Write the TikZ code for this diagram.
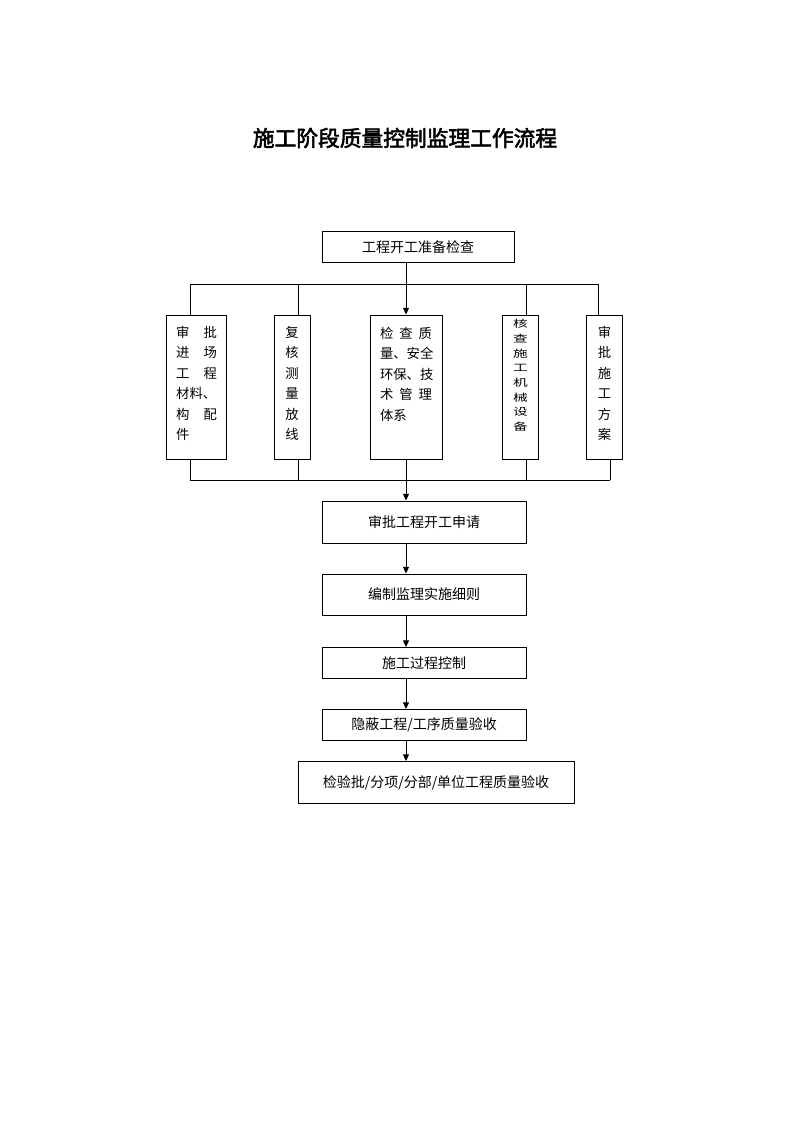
\documentclass[tikz,border=0pt]{standalone}
\usepackage{fontspec}
\setmainfont{Noto Sans CJK SC}
\newfontfamily\titlefont{Noto Sans CJK SC}[FakeBold=2.5]
\usetikzlibrary{arrows.meta}
\newcommand{\sq}[1]{\scalebox{1.1}[0.75]{#1}}
\begin{document}
\begin{tikzpicture}[x=0.75pt,y=-0.75pt,
  box/.style={draw,line width=0.75pt,inner sep=0pt},
  ln/.style={line width=0.75pt},
  arr/.style={line width=0.75pt,-{Triangle[length=5pt,width=4.5pt]}},
  txt/.style={inner sep=0pt,font=\fontsize{10}{15.3}\selectfont},
]
\useasboundingbox (0,0) rectangle (794,1123);
% title
\node[inner sep=0pt,font=\titlefont\fontsize{16.3}{18}\selectfont] (title) at (405,138) {施工阶段质量控制监理工作流程};
% top box
\node[box,minimum width=192*0.75pt,minimum height=30*0.75pt,font=\fontsize{10.5}{12}\selectfont] (top) at (418,247) {工程开工准备检查};
% five boxes
\node[box,minimum width=60*0.75pt,minimum height=144*0.75pt] (b1) at (196.5,387) {};
\node[box,minimum width=36*0.75pt,minimum height=144*0.75pt] (b2) at (292,387) {};
\node[box,minimum width=72*0.75pt,minimum height=144*0.75pt] (b3) at (406,387) {};
\node[box,minimum width=36*0.75pt,minimum height=144*0.75pt] (b4) at (520.5,387) {};
\node[box,minimum width=36*0.75pt,minimum height=144*0.75pt] (b5) at (604.5,387) {};
% texts
\node[txt,anchor=north,text width=30.5pt,align=left] (t1) at (196.5,326) {审\hfill 批\\进\hfill 场\\工\hfill 程\\材料、\\构\hfill 配\\件};
\node[txt,anchor=north,align=center] (t2) at (292,326) {复\\核\\测\\量\\放\\线};
\node[txt,anchor=north,text width=39pt,align=left] (t3) at (406,327) {检\hfill 查\hfill 质\\量、安全\\环保、技\\术\hfill 管\hfill 理\\体系};
\node[inner sep=0pt,anchor=north,align=center,font=\fontsize{10}{11}\selectfont] (t4) at (520.5,319) {\sq{核}\\\sq{查}\\\sq{施}\\\sq{工}\\\sq{机}\\\sq{械}\\\sq{设}\\\sq{备}};
\node[txt,anchor=north,align=center] (t5) at (604.5,326) {审\\批\\施\\工\\方\\案};
% lower boxes
\node[box,minimum width=204*0.75pt,minimum height=42*0.75pt,font=\fontsize{10.5}{12}\selectfont] (s1) at (424,522) {审批工程开工申请};
\node[box,minimum width=204*0.75pt,minimum height=41*0.75pt,font=\fontsize{10.5}{12}\selectfont] (s2) at (424,594.5) {编制监理实施细则};
\node[box,minimum width=204*0.75pt,minimum height=31*0.75pt,font=\fontsize{10.5}{12}\selectfont] (s3) at (424,663) {施工过程控制};
\node[box,minimum width=204*0.75pt,minimum height=31*0.75pt,font=\fontsize{10.5}{12}\selectfont] (s4) at (424,725) {隐蔽工程/工序质量验收};
\node[box,minimum width=276*0.75pt,minimum height=42*0.75pt,font=\fontsize{10.5}{12}\selectfont] (s5) at (436,782.5) {检验批/分项/分部/单位工程质量验收};
% branch coordinates
\coordinate (u1) at (190,284);
\coordinate (u2) at (298,284);
\coordinate (u3) at (406,284);
\coordinate (u4) at (526,284);
\coordinate (u5) at (598,284);
\coordinate (d1) at (190,480);
\coordinate (d2) at (298,480);
\coordinate (d3) at (406,480);
\coordinate (d4) at (526,480);
\coordinate (d5) at (610,480);
% top connectors
\draw[ln] (u1) -- (u5);
\draw[arr] (top.south -| u3) -- (b3.north);
\draw[ln] (u1) -- (b1.north -| u1);
\draw[ln] (u2) -- (b2.north -| u2);
\draw[ln] (u4) -- (b4.north -| u4);
\draw[ln] (u5) -- (b5.north -| u5);
% bottom connectors
\draw[ln] (d1) -- (d5);
\draw[ln] (b1.south -| d1) -- (d1);
\draw[ln] (b2.south -| d2) -- (d2);
\draw[ln] (b3.south -| d3) -- (d3);
\draw[ln] (b4.south -| d4) -- (d4);
\draw[ln] (b5.south -| d5) -- (d5);
% chain
\draw[arr] (d3) -- (s1.north -| d3);
\draw[arr] (s1.south -| d3) -- (s2.north -| d3);
\draw[arr] (s2.south -| d3) -- (s3.north -| d3);
\draw[arr] (s3.south -| d3) -- (s4.north -| d3);
\draw[arr] (s4.south -| d3) -- (s5.north -| d3);
\end{tikzpicture}
\end{document}
